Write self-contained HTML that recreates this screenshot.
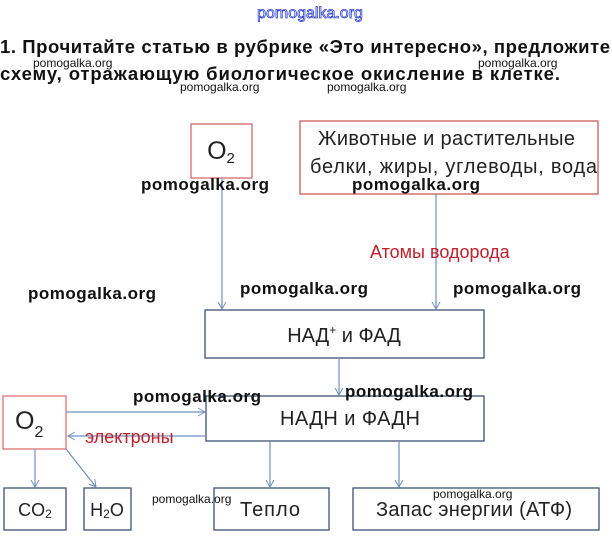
<!DOCTYPE html>
<html><head><meta charset="utf-8"><style>
html,body{margin:0;padding:0;background:#fff;width:612px;height:557px;overflow:hidden}
svg{display:block}
.t{font-family:"Liberation Sans","DejaVu Sans",sans-serif}
</style></head><body>
<svg width="612" height="557" viewBox="0 0 612 557" xmlns="http://www.w3.org/2000/svg">
<defs>
<marker id="a" markerWidth="10" markerHeight="10" refX="8" refY="5" orient="auto" markerUnits="userSpaceOnUse">
<path d="M1,1 L8,5 L1,9" fill="none" stroke="#6f8fc0" stroke-width="1"/>
</marker>
</defs>
<text x="310" y="18" text-anchor="middle" class="t" font-size="16" fill="#fff" stroke="#2b3fd0" stroke-width="0.8">pomogalka.org</text>
<text x="0" y="53" class="t" font-size="18.5" font-weight="bold" fill="#111" textLength="610">1. Прочитайте статью в рубрике «Это интересно», предложите</text>
<text x="0" y="80" class="t" font-size="18.5" font-weight="bold" fill="#111" textLength="560">схему, отражающую биологическое окисление в клетке.</text>
<g fill="#fff" stroke-width="1.3">
<rect x="191" y="124" width="61" height="54" stroke="#d06a6a"/>
<rect x="300" y="121" width="298" height="73" stroke="#c95a5a"/>
<rect x="205" y="310" width="279" height="48" stroke="#3c5275"/>
<rect x="206" y="396" width="278" height="45" stroke="#3c5275"/>
<rect x="3" y="396" width="63" height="53" stroke="#e07070"/>
<rect x="4" y="488" width="62" height="42" stroke="#3c5275"/>
<rect x="84" y="488" width="47" height="42" stroke="#3c5275"/>
<rect x="214" y="488" width="115" height="42" stroke="#3c5275"/>
<rect x="353" y="488" width="246" height="42" stroke="#3c5275"/>
</g>
<g stroke="#6f8fc0" stroke-width="1.2" fill="none" marker-end="url(#a)">
<line x1="222" y1="178" x2="222" y2="309"/>
<line x1="436" y1="194" x2="436" y2="309"/>
<line x1="339" y1="358" x2="339" y2="395"/>
<line x1="66" y1="412" x2="205" y2="412"/>
<line x1="206" y1="436" x2="68" y2="436"/>
<line x1="35" y1="449" x2="35" y2="487"/>
<line x1="66" y1="449" x2="96" y2="487"/>
<line x1="270" y1="441" x2="270" y2="487"/>
<line x1="399" y1="441" x2="399" y2="487"/>
</g>
<g class="t" fill="#222">
<text x="221" y="159" font-size="25" text-anchor="middle">O<tspan font-size="15" dy="4">2</tspan></text>
<text x="318" y="145" font-size="20" textLength="257">Животные и растительные</text>
<text x="310" y="173" font-size="20" textLength="287">белки, жиры, углеводы, вода</text>
<text x="344" y="342" font-size="20" text-anchor="middle">НАД<tspan font-size="12" dy="-8">+</tspan><tspan dy="8"> и ФАД</tspan></text>
<text x="280" y="425" font-size="20" textLength="140">НАДН и ФАДН</text>
<text x="15" y="429" font-size="25">O<tspan font-size="16" dy="8">2</tspan></text>
<text x="35" y="516" font-size="18" text-anchor="middle">CO<tspan font-size="12" dy="2">2</tspan></text>
<text x="107" y="516" font-size="18" text-anchor="middle">H<tspan font-size="12" dy="2">2</tspan><tspan dy="-2">O</tspan></text>
<text x="240" y="516" font-size="20" textLength="60">Тепло</text>
<text x="376" y="516" font-size="20" textLength="196">Запас энергии (АТФ)</text>
<text x="370" y="258" font-size="18" fill="#c0202a">Атомы водорода</text>
<text x="85" y="443" font-size="18" fill="#c0202a">электроны</text>
</g>
<g class="t" font-size="12" fill="#111">
<text x="33" y="67">pomogalka.org</text>
<text x="478" y="67">pomogalka.org</text>
<text x="180" y="91">pomogalka.org</text>
<text x="327" y="91">pomogalka.org</text>
<text x="152" y="503">pomogalka.org</text>
<text x="433" y="498">pomogalka.org</text>
</g>
<g class="t" font-size="17" font-weight="bold" fill="#111">
<text x="141" y="190" textLength="128">pomogalka.org</text>
<text x="352" y="190" textLength="128">pomogalka.org</text>
<text x="28" y="299" textLength="128">pomogalka.org</text>
<text x="240" y="294" textLength="128">pomogalka.org</text>
<text x="453" y="294" textLength="128">pomogalka.org</text>
<text x="133" y="402" textLength="128">pomogalka.org</text>
<text x="345" y="397" textLength="128">pomogalka.org</text>
</g>
</svg>
</body></html>
